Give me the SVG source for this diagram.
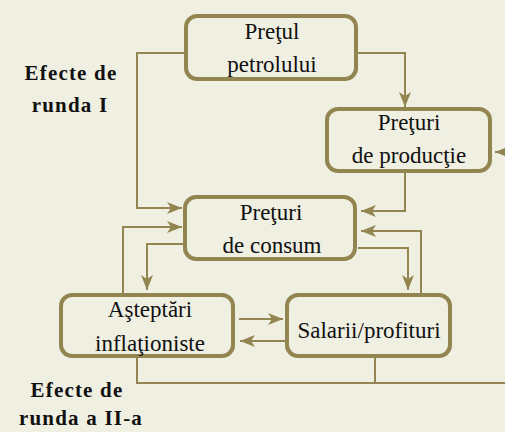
<svg xmlns="http://www.w3.org/2000/svg" width="505" height="432" viewBox="0 0 505 432">
<style>
.box{fill:none;stroke:#928550;stroke-width:4}
.ln{fill:none;stroke:#928550;stroke-width:2}
.arr{marker-end:url(#ah)}
.t{font-family:"Liberation Serif","Times New Roman",serif;font-size:23px;fill:#111;text-anchor:middle}
.lbl{font-family:"Liberation Serif","Times New Roman",serif;font-size:21px;font-weight:bold;fill:#111;text-anchor:middle;letter-spacing:1.2px}
</style>
<defs>
<marker id="ah" markerUnits="userSpaceOnUse" markerWidth="16" markerHeight="14" refX="15" refY="6" orient="auto" viewBox="0 0 16 12">
<path d="M0,0 L15,6 L0,12 L4,6 Z" fill="#928550"/>
</marker>
</defs>
<rect width="505" height="432" fill="#EFEFE2"/>
<g id="labels">
<text class="lbl" x="71" y="80">Efecte de</text>
<text class="lbl" x="70" y="112">runda I</text>
<text class="lbl" x="77" y="397">Efecte de</text>
<text class="lbl" x="81" y="425">runda a II-a</text>
</g>
<g id="connectors">
<path class="ln arr" d="M184,53 H137 V208 H182"/>
<path class="ln arr" d="M358,53 H405 V107"/>
<path class="ln arr" d="M405,173 V211 H361"/>
<path class="ln arr" d="M123,293 V227 H182"/>
<path class="ln arr" d="M183,244 H147 V290"/>
<path class="ln arr" d="M358,248 H408 V290"/>
<path class="ln arr" d="M421,293 V231 H361"/>
<path class="ln arr" d="M239,319 H283"/>
<path class="ln arr" d="M285,341 H240"/>
<path class="ln arr" d="M137,358 V383 H512 V152 H495"/>
<path class="ln" d="M375,358 V383"/>
</g>
<g id="pretul-petrolului">
<rect class="box" x="186" y="16" width="170" height="63" rx="11"/>
<text class="t" x="272" y="39">Preţul</text>
<text class="t" x="272" y="72">petrolului</text>
</g>
<g id="preturi-productie">
<rect class="box" x="327" y="109" width="163" height="62" rx="11"/>
<text class="t" x="409" y="130">Preţuri</text>
<text class="t" x="409" y="163">de producţie</text>
</g>
<g id="preturi-consum">
<rect class="box" x="185" y="197" width="170" height="62" rx="11"/>
<text class="t" x="271" y="220">Preţuri</text>
<text class="t" x="272" y="253">de consum</text>
</g>
<g id="asteptari">
<rect class="box" x="61" y="295" width="172" height="61" rx="11"/>
<text class="t" x="150" y="317">Aşteptări</text>
<text class="t" x="150" y="351">inflaţioniste</text>
</g>
<g id="salarii">
<rect class="box" x="287" y="295" width="163" height="61" rx="11"/>
<text class="t" x="369" y="338">Salarii/profituri</text>
</g>
</svg>
